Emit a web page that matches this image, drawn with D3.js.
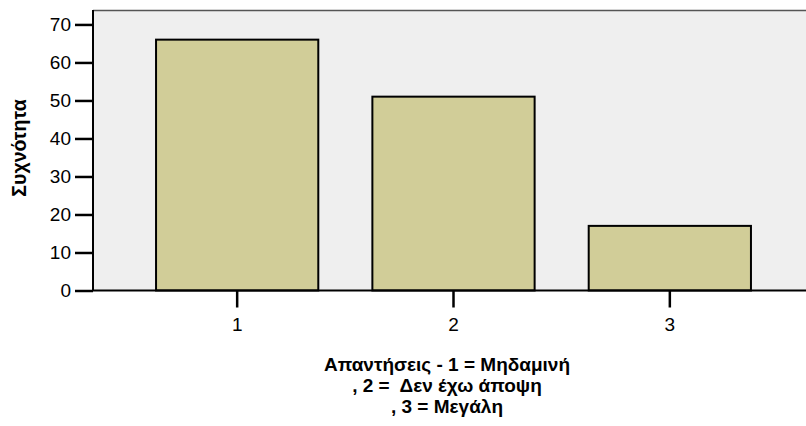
<!DOCTYPE html>
<html><head><meta charset="utf-8">
<script src="https://cdn.jsdelivr.net/npm/d3@7"></script>
<style>body{margin:0;background:#fff}svg{display:block}text{font-family:"Liberation Sans",Arial,sans-serif}</style>
</head><body><svg id="c" width="806" height="426"></svg>
<script>
const categories = ["1", "2", "3"];
const frequencies = [66, 51, 17];
const yTicks = [0, 10, 20, 30, 40, 50, 60, 70];
const yTitle = "Συχνότητα";
const xTitleLines = ["Απαντήσεις - 1 = Μηδαμινή", ", 2 =  Δεν έχω άποψη", ", 3 = Μεγάλη"];

const svg = d3.select("#c");
const pLeft = 93, pRight = 806, pTop = 10, pBottom = 290.5;
const x = d3.scaleBand().domain(categories).range([129, 778]).paddingInner(0.25).paddingOuter(0.125);
const y = d3.scaleLinear().domain([0, 73.8]).range([pBottom, pTop]);

svg.append("rect").attr("x", pLeft).attr("y", pTop).attr("width", pRight - pLeft).attr("height", pBottom - pTop).attr("fill", "#EFEFEF");
svg.append("line").attr("x1", pLeft).attr("x2", pRight).attr("y1", pTop + 0.5).attr("y2", pTop + 0.5).attr("stroke", "#555").attr("stroke-width", 1.5);

svg.selectAll("rect.bar").data(frequencies).join("rect").attr("class", "bar")
  .attr("x", (d, i) => x(categories[i]))
  .attr("width", x.bandwidth())
  .attr("y", d => y(d))
  .attr("height", d => y(0) - y(d))
  .attr("fill", "#D1CD98").attr("stroke", "#000").attr("stroke-width", 2);

const ya = svg.append("g").attr("transform", `translate(${pLeft},0)`)
  .call(d3.axisLeft(y).tickValues(yTicks).tickSize(18).tickPadding(4));
ya.select(".domain").attr("d", `M0,${pTop}V${pBottom}`).attr("stroke", "#000").attr("stroke-width", 2);
ya.selectAll(".tick line").attr("stroke-width", 2.5);
ya.selectAll("text").attr("font-size", 19).attr("fill", "#000").attr("font-family", '"Liberation Sans",Arial,sans-serif');

const xa = svg.append("g").attr("transform", `translate(0,${pBottom})`)
  .call(d3.axisBottom(x).tickSize(17).tickPadding(10));
xa.select(".domain").attr("d", `M${pLeft},0H${pRight}`).attr("stroke", "#000").attr("stroke-width", 2);
xa.selectAll(".tick line").attr("stroke-width", 2.5);
xa.selectAll("text").attr("font-size", 19).attr("fill", "#000").attr("font-family", '"Liberation Sans",Arial,sans-serif');

svg.append("text").attr("transform", "translate(26,148) rotate(-90)").attr("text-anchor", "middle")
  .attr("font-size", 19.5).attr("font-weight", "bold").text(yTitle);

svg.selectAll("text.xt").data(xTitleLines).join("text").attr("class", "xt")
  .attr("x", 447).attr("y", (d, i) => 371 + i * 21).attr("text-anchor", "middle")
  .attr("font-size", 19).attr("font-weight", "bold").style("white-space", "pre").text(d => d);
</script></body></html>
